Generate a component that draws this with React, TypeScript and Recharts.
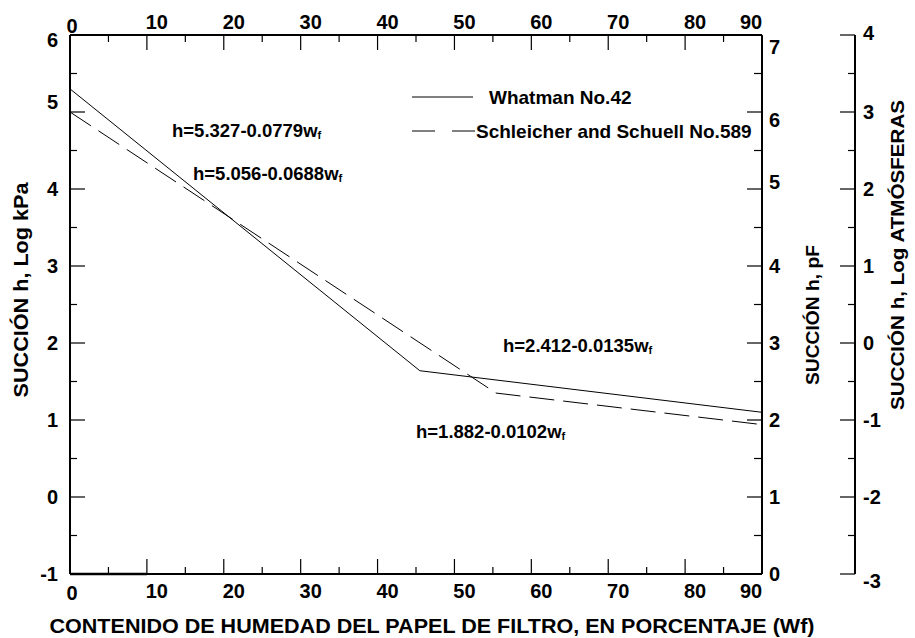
import React from 'react';
import { LineChart, Line, XAxis, YAxis, Legend, ReferenceLine, Customized } from 'recharts';

const FONT = '"Liberation Sans", Arial, Helvetica, sans-serif';

// Whatman No.42 (línea continua): contenido de humedad (%) y succión (log kPa)
const whatmanW = [0, 45.5, 90];
const whatmanH = [5.3, 1.64, 1.1];

// Schleicher and Schuell No.589 (línea discontinua)
const schleicherW = [0, 55.4, 90];
const schleicherH = [5.0, 1.35, 0.94];

const xTicks = [0, 5, 10, 15, 20, 25, 30, 35, 40, 45, 50, 55, 60, 65, 70, 75, 80, 85, 90];
const kpaTicks = [-1, -0.5, 0, 0.5, 1, 1.5, 2, 2.5, 3, 3.5, 4, 4.5, 5, 5.5, 6];
const pfTicks = [0, 0.5, 1, 1.5, 2, 2.5, 3, 3.5, 4, 4.5, 5, 5.5, 6, 6.5, 7];
const atmTicks = [-3, -2.5, -2, -1.5, -1, -0.5, 0, 0.5, 1, 1.5, 2, 2.5, 3, 3.5, 4];

const seriesNames = ['Whatman No.42', 'Schleicher and Schuell No.589'];
const equationLabels = ['h=5.327-0.0779w', 'h=5.056-0.0688w', 'h=2.412-0.0135w', 'h=1.882-0.0102w'];

const whatmanData = whatmanW.map((w, i) => ({ w, h: whatmanH[i] }));
const schleicherData = schleicherW.map((w, i) => ({ w, h: schleicherH[i] }));

// pF = log kPa + 1, log atm = log kPa - 2
const toPf = (d: { h: number }) => d.h + 1;
const toAtm = (d: { h: number }) => d.h - 2;

// layout
const W = 915;
const H = 638;
const LEFT_W = 70;
const PF_W = 93;
const ATM_W = 60;
const TOP_H = 35;
const BOTTOM_H = 64;
const PLOT_W = W - LEFT_W - PF_W - ATM_W;
const PLOT_H = H - TOP_H - BOTTOM_H;
const MAJOR = 15;
const MINOR = 7;

// same linear mapping the axes use (domains 0..90 and 7 units tall)
const px = (w: number) => LEFT_W + (w / 90) * PLOT_W;
const py = (v: number, min: number) => TOP_H + PLOT_H - ((v - min) / 7) * PLOT_H;

const labelStyle = { fontFamily: FONT, fontWeight: 700, fontSize: 20, fill: '#000' } as const;

// the source figure places these labels a little off their ticks
const xNudge = (v: number) => (v === 0 ? 2 : v === 90 ? -11 : 10);
const kpaNudge: Record<string, number> = { '6': 5, '5': -10 };
const pfNudge: Record<string, number> = { '7': 12, '6': 8, '5': -7 };
const atmNudge: Record<string, number> = { '4': -2, '-3': 7 };

const xLen = (v: number) => (v % 10 === 0 ? MAJOR : MINOR);
const yLen = (v: number, minor = MINOR) => (Number.isInteger(v) ? MAJOR : minor);

const TopTick = (props: any) => {
  const { x, y, payload } = props;
  const v = payload.value;
  if (v % 10 !== 0) return <g />;
  return (
    <text x={x + xNudge(v)} y={y - 6 + (v === 0 ? 4 : 0)} textAnchor="middle" {...labelStyle}>
      {v}
    </text>
  );
};

const BottomTick = (props: any) => {
  const { x, y, payload } = props;
  const v = payload.value;
  if (v % 10 !== 0) return <g />;
  return (
    <text x={x + xNudge(v)} y={y + 24 + (v === 0 ? 2 : 0)} textAnchor="middle" {...labelStyle}>
      {v}
    </text>
  );
};

const LeftTick = (props: any) => {
  const { x, y, payload } = props;
  const v = payload.value;
  if (!Number.isInteger(v)) return <g />;
  return (
    <text x={x - 12} y={y + 7 + (kpaNudge[String(v)] || 0)} textAnchor="end" {...labelStyle}>
      {v}
    </text>
  );
};

const makeRightTick = (nudge: Record<string, number>, gap: number) => (props: any) => {
  const { x, y, payload } = props;
  const v = payload.value;
  if (!Number.isInteger(v)) return <g />;
  return (
    <text x={x + gap} y={y + 7 + (nudge[String(v)] || 0)} textAnchor="start" {...labelStyle}>
      {v}
    </text>
  );
};

const PfTick = makeRightTick(pfNudge, 7);
const AtmTick = makeRightTick(atmNudge, 8);

// inward tick marks on all five axes
const TickMarks = () => {
  const top = TOP_H;
  const bottom = TOP_H + PLOT_H;
  const left = LEFT_W;
  const right = LEFT_W + PLOT_W;
  const atm = right + PF_W;
  const s = { stroke: '#000', strokeWidth: 1.2 };
  return (
    <g className="tick-marks">
      {xTicks.map((v) => (
        <g key={`x${v}`}>
          <line x1={px(v)} y1={bottom} x2={px(v)} y2={bottom - xLen(v)} {...s} />
          <line x1={px(v)} y1={top} x2={px(v)} y2={top + xLen(v)} {...s} />
        </g>
      ))}
      {kpaTicks.map((v) => (
        <line key={`k${v}`} x1={left} y1={py(v, -1)} x2={left + yLen(v)} y2={py(v, -1)} {...s} />
      ))}
      {pfTicks.map((v) => (
        <line key={`p${v}`} x1={right} y1={py(v, 0)} x2={right - yLen(v, 8)} y2={py(v, 0)} {...s} />
      ))}
      {atmTicks.map((v) => (
        <line key={`a${v}`} x1={atm} y1={py(v, -3)} x2={atm - yLen(v)} y2={py(v, -3)} {...s} />
      ))}
    </g>
  );
};

const renderLegend = () => (
  <svg width={360} height={62} style={{ display: 'block' }}>
    <line x1={7} y1={13} x2={68} y2={13} stroke="#000" />
    <text x={84} y={20} {...labelStyle} fontSize={19}>
      {seriesNames[0]}
    </text>
    <line x1={7} y1={47} x2={73} y2={47} stroke="#000" strokeDasharray="23 17" />
    <text x={71} y={54} {...labelStyle} fontSize={19}>
      {seriesNames[1]}
    </text>
  </svg>
);

const Equation = ({ x, y, text }: { x: number; y: number; text: string }) => (
  <text x={x} y={y} fontFamily={FONT} fontWeight={700} fontSize={18.5} fill="#000">
    {text}
    <tspan fontSize={11} dy={2}>f</tspan>
  </text>
);

const Annotations = () => (
  <g>
    <TickMarks />
    <Equation x={172} y={137} text={equationLabels[0]} />
    <Equation x={193} y={180} text={equationLabels[1]} />
    <Equation x={503} y={352} text={equationLabels[2]} />
    <Equation x={416} y={438} text={equationLabels[3]} />

    <text x={432} y={633} textAnchor="middle" textLength={765} lengthAdjust="spacingAndGlyphs" {...labelStyle} fontSize={19.5}>
      CONTENIDO DE HUMEDAD DEL PAPEL DE FILTRO, EN PORCENTAJE (Wf)
    </text>
    <text transform="translate(21,290) rotate(-90)" y={7} textAnchor="middle" textLength={215} lengthAdjust="spacingAndGlyphs" {...labelStyle} fontSize={19.5}>
      SUCCIÓN h, Log kPa
    </text>
    <text transform="translate(812,315) rotate(-90)" y={7} textAnchor="middle" textLength={140} lengthAdjust="spacingAndGlyphs" {...labelStyle} fontSize={19}>
      SUCCIÓN h, pF
    </text>
    <text transform="translate(897,255) rotate(-90)" y={7} textAnchor="middle" textLength={310} lengthAdjust="spacingAndGlyphs" {...labelStyle} fontSize={19}>
      SUCCIÓN h, Log ATMÓSFERAS
    </text>
  </g>
);

const axisCommon = {
  type: 'number' as const,
  interval: 0 as const,
  tickSize: 0,
  tickMargin: 0,
  tickLine: false,
  axisLine: { stroke: '#000', strokeWidth: 1.3, shapeRendering: 'crispEdges' },
};

export default function App() {
  return (
    <div style={{ position: 'absolute', left: 0, top: 0, background: '#fff' }}>
      <LineChart width={W} height={H} margin={{ top: 0, right: 0, bottom: 0, left: 0 }}>
        <XAxis xAxisId="bottom" dataKey="w" domain={[0, 90]} ticks={xTicks} height={BOTTOM_H} tick={BottomTick} {...axisCommon} />
        <XAxis xAxisId="top" dataKey="w" orientation="top" domain={[0, 90]} ticks={xTicks} height={TOP_H} tick={TopTick} {...axisCommon} />
        <YAxis yAxisId="kpa" domain={[-1, 6]} ticks={kpaTicks} width={LEFT_W} tick={LeftTick} {...axisCommon} />
        <YAxis yAxisId="r1" orientation="right" domain={[0, 7]} ticks={pfTicks} width={PF_W} tick={PfTick} {...axisCommon} />
        <YAxis yAxisId="r2" orientation="right" domain={[-3, 4]} ticks={atmTicks} width={ATM_W} tick={AtmTick} {...axisCommon} />

        <ReferenceLine
          xAxisId="bottom"
          yAxisId="kpa"
          segment={[{ x: 0, y: -1 }, { x: 10, y: -1 }]}
          stroke="#000"
          strokeWidth={2.5}
        />
        <Line
          xAxisId="bottom"
          yAxisId="kpa"
          data={whatmanData}
          dataKey="h"
          name={seriesNames[0]}
          type="linear"
          stroke="#000"
          strokeWidth={1}
          dot={false}
          activeDot={false}
          isAnimationActive={false}
        />
        <Line
          xAxisId="bottom"
          yAxisId="kpa"
          data={schleicherData}
          dataKey="h"
          name={seriesNames[1]}
          type="linear"
          stroke="#000"
          strokeWidth={1}
          strokeDasharray="25 9"
          dot={false}
          activeDot={false}
          isAnimationActive={false}
        />
        {/* same curve in the other units, so the top and right scales get their own series */}
        <Line xAxisId="top" yAxisId="kpa" data={whatmanData} dataKey="h" stroke="none" dot={false} activeDot={false} legendType="none" isAnimationActive={false} />
        <Line xAxisId="bottom" yAxisId="r1" data={whatmanData} dataKey={toPf} stroke="none" dot={false} activeDot={false} legendType="none" isAnimationActive={false} />
        <Line xAxisId="bottom" yAxisId="r2" data={whatmanData} dataKey={toAtm} stroke="none" dot={false} activeDot={false} legendType="none" isAnimationActive={false} />

        <Legend
          layout="vertical"
          align="center"
          verticalAlign="middle"
          width={360}
          content={renderLegend}
          wrapperStyle={{ left: 405, top: 84, width: 360 }}
        />
        <Customized component={<Annotations />} />
      </LineChart>
    </div>
  );
}
